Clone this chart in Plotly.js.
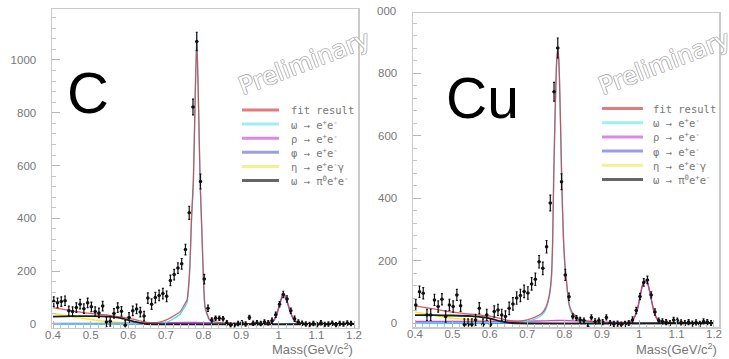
<!DOCTYPE html>
<html>
<head>
<meta charset="utf-8">
<script src="https://cdn.plot.ly/plotly-3.0.1.min.js"></script>
<style>html,body{margin:0;padding:0;background:#fff;}#chart{width:729px;height:359px;}</style>
</head>
<body>
<div id="chart"></div>
<script>
// ---------------- DATA ----------------
// data bin centres (GeV/c^2)
const massBins = [0.402,0.412,0.422,0.432,0.442,0.452,0.462,0.472,0.482,0.492,0.502,0.512,0.522,0.532,0.542,0.552,0.562,0.572,0.582,0.592,0.602,0.612,0.622,0.632,0.642,0.652,0.662,0.672,0.682,0.692,0.702,0.712,0.722,0.732,0.742,0.752,0.762,0.772,0.782,0.792,0.802,0.812,0.822,0.832,0.842,0.852,0.862,0.872,0.882,0.892,0.902,0.912,0.922,0.932,0.942,0.952,0.962,0.972,0.982,0.992,1.002,1.012,1.022,1.032,1.042,1.052,1.062,1.072,1.082,1.092,1.102,1.112,1.122,1.132,1.142,1.152,1.162,1.172,1.182,1.192];

// Carbon target data
const cCounts = [85,80,85,88,50,47,62,75,58,80,65,47,42,68,8,10,40,62,48,-5,25,50,57,45,30,98,75,100,108,115,105,165,187,212,228,282,421,822,1070,540,170,60,15,22,22,20,5,-4,-5,2,5,0,25,3,5,2,8,5,12,35,75,112,95,50,20,8,3,0,-2,2,-3,5,-2,0,3,-3,2,0,4,2];
const cErrors = [18,18,18,18,18,18,18,18,18,18,18,18,18,18,18,18,18,18,18,18,18,18,18,18,18,20,20,20,20,20,20,20,20,20,20,20,25,30,35,28,18,12,8,8,8,8,8,8,8,8,8,8,8,8,8,8,8,8,10,10,10,12,12,10,10,8,8,8,8,8,8,8,8,8,8,8,8,8,8,8];

// Copper target data
const cuCounts = [58,100,95,26,26,74,53,76,21,58,53,90,55,-5,-5,-5,10,47,-5,26,-5,37,42,26,21,47,61,80,88,101,96,125,140,196,175,244,384,740,880,452,154,84,21,16,10,8,-12,18,5,8,3,18,0,-3,-2,-5,-3,0,10,40,85,130,138,90,35,8,5,3,0,10,8,2,0,3,-2,2,-3,5,3,0];
const cuErrors = [18,18,18,18,18,18,18,18,18,18,18,18,18,18,18,18,18,18,18,18,18,18,18,18,18,20,20,20,20,20,20,20,20,20,20,20,25,30,32,25,18,12,8,8,8,8,8,8,8,8,8,8,8,8,8,8,8,8,10,10,10,12,12,10,10,8,8,8,8,8,8,8,8,8,8,8,8,8,8,8];

// ---- fit curves, C ----
const cFitX = [0.40,0.45,0.50,0.55,0.60,0.63,0.65,0.68,0.70,0.72,0.738,0.748,0.756,0.760,0.764,0.768,0.773,0.777,0.782,0.786,0.791,0.795,0.797,0.800,0.804,0.810,0.817,0.830,0.850,0.900,0.950,0.975,0.985,0.995,1.000,1.006,1.012,1.018,1.025,1.030,1.040,1.050,1.070,1.100,1.200];
const cFitY = [62,50,40,33,22,12,6,6,15,30,47,70,91,140,230,400,545,800,1075,880,545,380,293,167,67,37,15,8,4,1,1,4,12,40,65,95,117,105,75,50,18,6,2,1,0];
const cOmegaX = [0.40,0.60,0.70,0.72,0.738,0.748,0.756,0.760,0.764,0.768,0.773,0.777,0.782,0.786,0.791,0.795,0.797,0.800,0.804,0.810,0.817,0.830,0.850,0.900,1.200];
const cOmegaY = [0,1,6,20,38,60,80,125,215,385,530,800,1100,870,530,370,285,160,60,32,12,5,2,0,0];
const cRhoX = [0.40,0.50,0.60,0.70,0.75,0.78,0.80,0.85,0.90,0.95,1.00,1.05,1.10,1.20];
const cRhoY = [2,2,3,5,6,6,5,3,2,1,1,0,0,0];
const cPhiX = [0.40,0.95,0.975,0.985,0.995,1.000,1.006,1.012,1.018,1.025,1.030,1.040,1.050,1.070,1.20];
const cPhiY = [0,0,2,9,36,60,90,112,100,70,46,15,4,1,0];
const cEtaX = [0.40,0.45,0.50,0.54,0.58,0.62,0.66,1.20];
const cEtaY = [40,28,17,10,5,2,0,0];
const cDalitzX = [0.40,0.45,0.50,0.55,0.58,0.60,0.62,0.64,0.65,1.20];
const cDalitzY = [28,30,30,28,22,15,8,2,0,0];

// ---- fit curves, Cu ----
const cuFitX = [0.40,0.45,0.50,0.55,0.60,0.63,0.65,0.68,0.70,0.72,0.74,0.75,0.760,0.765,0.768,0.771,0.775,0.779,0.782,0.785,0.789,0.793,0.797,0.801,0.805,0.810,0.814,0.820,0.826,0.835,0.846,0.870,0.900,0.950,0.975,0.985,0.995,1.002,1.008,1.015,1.022,1.030,1.040,1.050,1.070,1.100,1.200];
const cuFitY = [55,45,35,28,22,14,8,6,10,18,32,50,95,150,250,460,680,840,880,840,660,440,280,190,140,80,53,35,27,17,11,5,2,1,4,15,45,85,120,138,130,90,35,10,3,1,0];
const cuOmegaX = [0.40,0.60,0.70,0.72,0.74,0.75,0.760,0.765,0.768,0.771,0.775,0.779,0.782,0.785,0.789,0.793,0.797,0.801,0.805,0.810,0.814,0.820,0.826,0.835,0.846,0.870,0.900,1.200];
const cuOmegaY = [0,1,5,12,26,44,88,142,240,450,670,830,870,830,650,430,272,182,133,74,48,30,22,12,6,2,0,0];
const cuRhoX = [0.40,0.50,0.60,0.70,0.75,0.78,0.80,0.85,0.90,0.95,1.00,1.10,1.20];
const cuRhoY = [5,5,5,6,7,8,8,6,3,2,1,0,0];
const cuPhiX = [0.40,0.95,0.975,0.985,0.995,1.002,1.008,1.015,1.022,1.030,1.040,1.050,1.070,1.20];
const cuPhiY = [0,0,3,13,42,82,117,135,127,88,33,9,2,0];
const cuEtaX = [0.40,0.45,0.50,0.55,0.60,0.64,0.68,1.20];
const cuEtaY = [35,25,15,10,6,3,0,0];
const cuDalitzX = [0.40,0.45,0.50,0.55,0.60,0.63,0.66,1.20];
const cuDalitzY = [25,25,24,22,15,5,0,0];

// axis ticks
const massTicks = [0.4,0.5,0.6,0.7,0.8,0.9,1.0,1.1,1.2];
const massTickText = ['0.4','0.5','0.6','0.7','0.8','0.9','1','1.1','1.2'];
const countTicksC = [0,200,400,600,800,1000];
const countTicksCu = [0,200,400,600,800];

const legendLabels = ['fit result','ω → e<sup>+</sup>e<sup>-</sup>','ρ → e<sup>+</sup>e<sup>-</sup>','φ → e<sup>+</sup>e<sup>-</sup>','η → e<sup>+</sup>e<sup>-</sup>γ','ω → π<sup>0</sup>e<sup>+</sup>e<sup>-</sup>'];
const panelNames = ['C','Cu'];

// ---------------- STYLE ----------------
const COL = {fit:'#d2404e', omega:'#3fe0f0', rho:'#cf45d8', phi:'#6a66ee', eta:'#f2ef30', dalitz:'#1e1e1e'};
const LEGCOL = ['#e07c7c','#9eeef4','#d98ae4','#9c9cee','#f4f090','#666666'];
const W = 729, H = 359;
const px = v => v / W;
const py = v => 1 - v / H;

function curve(x, y, color, xa, ya, width) {
  return {x, y, type:'scatter', mode:'lines', line:{color, width:width||1.3, shape:'spline', smoothing:0.6},
          xaxis:xa, yaxis:ya, hoverinfo:'skip', showlegend:false};
}
function dataTrace(y, err, xa, ya) {
  return {x:massBins, y, type:'scatter', mode:'markers', xaxis:xa, yaxis:ya, showlegend:false,
          marker:{color:'#111', size:3.5, symbol:'circle'},
          error_y:{type:'data', array:err, visible:true, color:'#111', thickness:1.2, width:1},
          error_x:{type:'constant', value:0.004, visible:true, color:'#111', thickness:1, width:0}};
}

const traces = [
  curve(cEtaX, cEtaY, COL.eta, 'x', 'y', 1.6),
  curve(cRhoX, cRhoY, COL.rho, 'x', 'y'),
  curve(cPhiX, cPhiY, COL.phi, 'x', 'y'),
  curve(cOmegaX, cOmegaY, COL.omega, 'x', 'y'),
  Object.assign(curve(cFitX, cFitY, COL.fit, 'x', 'y'), {opacity:0.85}),
  curve(cDalitzX, cDalitzY, COL.dalitz, 'x', 'y', 1.8),
  dataTrace(cCounts, cErrors, 'x', 'y'),

  curve(cuEtaX, cuEtaY, COL.eta, 'x2', 'y2', 1.6),
  curve(cuRhoX, cuRhoY, COL.rho, 'x2', 'y2'),
  curve(cuPhiX, cuPhiY, COL.phi, 'x2', 'y2'),
  curve(cuOmegaX, cuOmegaY, COL.omega, 'x2', 'y2'),
  Object.assign(curve(cuFitX, cuFitY, COL.fit, 'x2', 'y2'), {opacity:0.85}),
  curve(cuDalitzX, cuDalitzY, COL.dalitz, 'x2', 'y2', 1.8),
  dataTrace(cuCounts, cuErrors, 'x2', 'y2')
];

const tickFont = {family:'Liberation Sans, Arial, sans-serif', size:11.5, color:'#777'};
function xAxis(domain, range, anchor) {
  return {domain, range, anchor, tickvals:massTicks, ticktext:massTickText, ticks:'inside', ticklen:7,
          tickcolor:'#b5b5b5', tickwidth:1, tickfont:tickFont, ticklabelstandoff:-4, showgrid:false, zeroline:false,
          showline:true, mirror:true, linecolor:'#cacaca', linewidth:1.5,
          minor:{ticks:'inside', ticklen:3.5, tickcolor:'#c5c5c5', dtick:0.02, tick0:0.4, showgrid:false}};
}
function yAxis(domain, range, anchor, tickvals) {
  return {domain, range, anchor, tickvals, ticks:'inside', ticklen:8, tickcolor:'#b5b5b5', tickwidth:1,
          tickfont:tickFont, ticklabelstandoff:12, showgrid:false, zeroline:false,
          showline:true, mirror:true, linecolor:'#cacaca', linewidth:1.5,
          minor:{ticks:'inside', ticklen:4, tickcolor:'#c5c5c5', dtick:40, tick0:0, showgrid:false}};
}

const annotations = [];
const shapes = [];
// panel labels
annotations.push({text:panelNames[0], x:px(88), y:py(93), xref:'paper', yref:'paper', showarrow:false,
  xanchor:'center', yanchor:'middle', font:{family:'Liberation Sans, Arial, sans-serif', size:58, color:'#000'}});
annotations.push({text:panelNames[1], x:px(482), y:py(98), xref:'paper', yref:'paper', showarrow:false,
  xanchor:'center', yanchor:'middle', font:{family:'Liberation Sans, Arial, sans-serif', size:57, color:'#000'}});
// "Preliminary" watermark (outlined letters)
const outline = '-0.6px -0.6px 0 #a8a8a8, 0.6px -0.6px 0 #a8a8a8, -0.6px 0.6px 0 #a8a8a8, 0.6px 0.6px 0 #a8a8a8';
[[304,62],[664,62]].forEach(([cx,cy]) => annotations.push({text:'Preliminary', x:px(cx), y:py(cy), xref:'paper', yref:'paper',
  showarrow:false, xanchor:'center', yanchor:'middle', textangle:-21,
  font:{family:'DejaVu Sans, sans-serif', size:24.5, color:'#ffffff', shadow:outline}}));
// axis titles
annotations.push({text:'Mass(GeV/c<sup>2</sup>)', x:px(355), y:py(349), xref:'paper', yref:'paper', showarrow:false,
  xanchor:'right', yanchor:'middle', font:{family:'Liberation Sans, Arial, sans-serif', size:13, color:'#777'}});
annotations.push({text:'Mass(GeV/c<sup>2</sup>)', x:px(719), y:py(349), xref:'paper', yref:'paper', showarrow:false,
  xanchor:'right', yanchor:'middle', font:{family:'Liberation Sans, Arial, sans-serif', size:13, color:'#777'}});
// clipped "1000" label of the right panel
annotations.push({text:'000', x:px(398), y:py(11.5), xref:'paper', yref:'paper', showarrow:false,
  xanchor:'right', yanchor:'middle', font:tickFont});
// legends
const legendPanels = [{lx0:242, lx1:279, tx:289, y0:110, dy:14.1}, {lx0:602, lx1:643, tx:651, y0:108.5, dy:14.2}];
legendPanels.forEach(p => {
  legendLabels.forEach((lab, i) => {
    const yy = p.y0 + i * p.dy;
    shapes.push({type:'line', xref:'paper', yref:'paper', x0:px(p.lx0), x1:px(p.lx1), y0:py(yy), y1:py(yy),
      line:{color:LEGCOL[i], width:3}});
    annotations.push({text:lab, x:px(p.tx), y:py(yy), xref:'paper', yref:'paper', showarrow:false,
      xanchor:'left', yanchor:'middle', font:{family:'DejaVu Sans Mono, monospace', size:10.5, color:'#777'}});
  });
});

const layout = {
  width:W, height:H, margin:{l:0,r:0,t:0,b:0}, paper_bgcolor:'#fff', plot_bgcolor:'#fff', showlegend:false,
  xaxis: xAxis([52/W, 358/W], [0.3973, 1.2106], 'y'),
  yaxis: yAxis([1-327.5/H, 1-9/H], [-13.3, 1193], 'x', countTicksC),
  xaxis2: xAxis([413/W, 719/W], [0.3946, 1.2134], 'y2'),
  yaxis2: yAxis([1-327/H, 1-13/H], [-12.8, 992], 'x2', countTicksCu),
  annotations, shapes
};

Plotly.newPlot('chart', traces, layout, {displayModeBar:false, staticPlot:true});
</script>
</body>
</html>
